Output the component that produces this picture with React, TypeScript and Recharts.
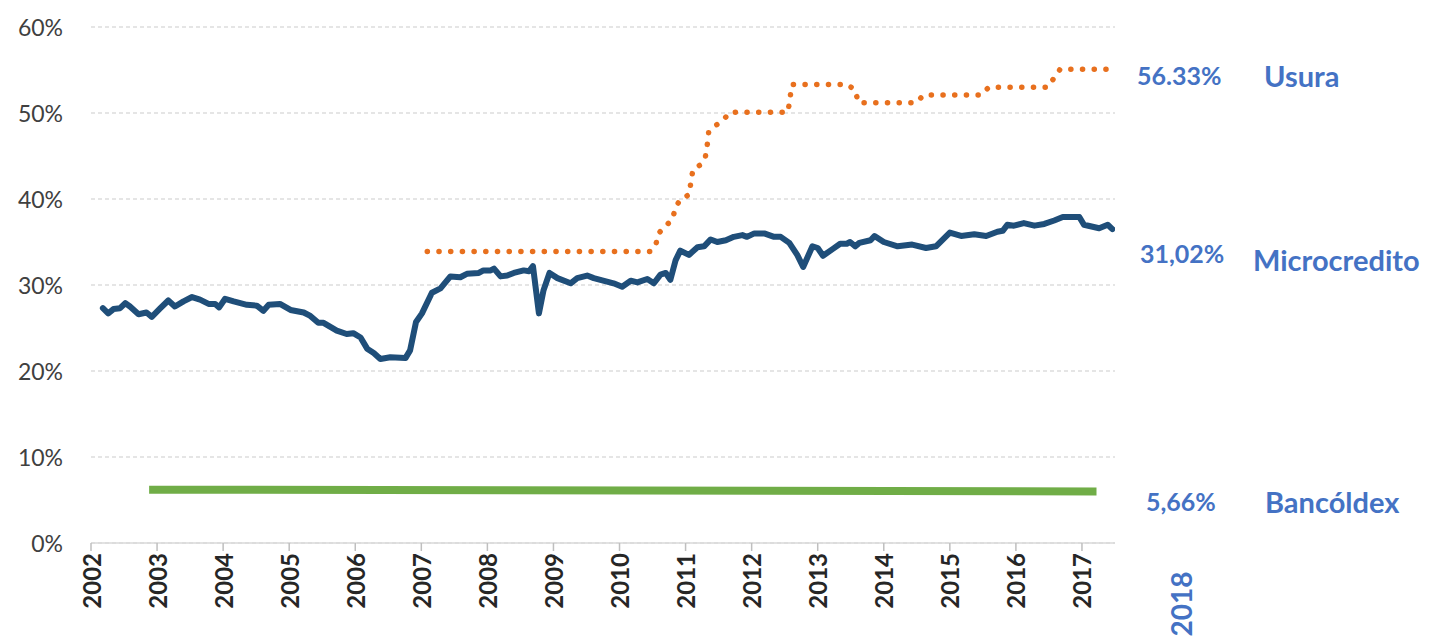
import React from "react";
import { LineChart, Line, XAxis, YAxis, CartesianGrid } from "recharts";

// tasas (% anual), [año decimal, tasa]
const microcredito: [number, number][] = [
  [2002.18, 27.3], [2002.26, 26.7], [2002.34, 27.2], [2002.44, 27.3], [2002.52, 27.9],
  [2002.59, 27.5], [2002.72, 26.6], [2002.84, 26.8], [2002.92, 26.3], [2003.05, 27.3],
  [2003.17, 28.2], [2003.27, 27.5], [2003.4, 28.1], [2003.53, 28.6], [2003.65, 28.3],
  [2003.78, 27.8], [2003.88, 27.8], [2003.94, 27.4], [2004.03, 28.4], [2004.16, 28.1],
  [2004.36, 27.7], [2004.51, 27.6], [2004.61, 27.0], [2004.69, 27.7], [2004.86, 27.8],
  [2005.02, 27.1], [2005.22, 26.8], [2005.32, 26.4], [2005.44, 25.6], [2005.52, 25.6],
  [2005.72, 24.7], [2005.87, 24.3], [2005.97, 24.4], [2006.08, 23.9], [2006.18, 22.6],
  [2006.28, 22.1], [2006.38, 21.4], [2006.53, 21.6], [2006.76, 21.5], [2006.83, 22.4],
  [2006.92, 25.7], [2007.01, 26.7], [2007.16, 29.1], [2007.29, 29.6], [2007.44, 31.0],
  [2007.59, 30.9], [2007.69, 31.3], [2007.87, 31.4], [2007.94, 31.7], [2008.05, 31.7],
  [2008.1, 31.9], [2008.2, 31.0], [2008.3, 31.1], [2008.4, 31.4], [2008.55, 31.7],
  [2008.63, 31.6], [2008.69, 32.2], [2008.78, 26.7], [2008.85, 29.4], [2008.94, 31.4],
  [2009.06, 30.8], [2009.26, 30.2], [2009.36, 30.8], [2009.51, 31.1], [2009.61, 30.8],
  [2009.71, 30.6], [2009.81, 30.4], [2009.91, 30.2], [2010.04, 29.8], [2010.17, 30.5],
  [2010.27, 30.3], [2010.42, 30.7], [2010.52, 30.2], [2010.62, 31.2], [2010.7, 31.4],
  [2010.77, 30.6], [2010.85, 32.9], [2010.92, 34.0], [2011.05, 33.5], [2011.18, 34.4],
  [2011.28, 34.5], [2011.38, 35.3], [2011.48, 35.0], [2011.61, 35.2], [2011.73, 35.6],
  [2011.86, 35.8], [2011.93, 35.6], [2012.04, 36.0], [2012.19, 36.0], [2012.34, 35.6],
  [2012.44, 35.6], [2012.57, 34.9], [2012.69, 33.5], [2012.78, 32.1], [2012.92, 34.5],
  [2013.0, 34.3], [2013.08, 33.4], [2013.23, 34.2], [2013.34, 34.8], [2013.44, 34.8],
  [2013.49, 35.0], [2013.57, 34.5], [2013.63, 34.9], [2013.8, 35.2], [2013.86, 35.7],
  [2014.0, 35.0], [2014.21, 34.5], [2014.43, 34.7], [2014.64, 34.3], [2014.79, 34.5],
  [2015.0, 36.1], [2015.17, 35.7], [2015.37, 35.9], [2015.55, 35.7], [2015.72, 36.2],
  [2015.8, 36.3], [2015.87, 37.0], [2015.97, 36.9], [2016.12, 37.2], [2016.28, 36.9],
  [2016.43, 37.1], [2016.58, 37.5], [2016.71, 37.9], [2016.96, 37.9], [2017.03, 37.0],
  [2017.26, 36.6], [2017.39, 37.0], [2017.46, 36.5],
];

const usura: [number, number][] = [
  [2007.09, 33.9], [2010.47, 33.9], [2010.55, 34.7], [2010.59, 36.0], [2010.7, 36.9],
  [2010.8, 37.6], [2010.85, 39.1], [2010.92, 39.9], [2011.05, 40.5], [2011.08, 41.9],
  [2011.11, 43.4], [2011.23, 44.0], [2011.3, 44.9], [2011.33, 46.4], [2011.35, 47.8],
  [2011.45, 48.5], [2011.58, 49.3], [2011.68, 50.1], [2012.55, 50.1], [2012.58, 51.7],
  [2012.61, 53.3], [2013.45, 53.3], [2013.56, 52.7], [2013.62, 51.2], [2014.48, 51.2],
  [2014.61, 52.1], [2015.47, 52.1], [2015.59, 53.0], [2016.48, 53.0], [2016.58, 54.1],
  [2016.67, 55.1], [2017.38, 55.1],
];

const bancoldex: [number, number][] = [
  [2002.88, 6.2], [2017.22, 6.0],
];

const yearTicks = [
  2002, 2003, 2004, 2005, 2006, 2007, 2008, 2009, 2010, 2011, 2012, 2013, 2014, 2015, 2016, 2017,
];
const rateTicks = [0, 10, 20, 30, 40, 50, 60];

const toRows = (pts: [number, number][]) => pts.map(([year, value]) => ({ year, value }));

const FONT = "Lato, 'Open Sans', sans-serif";
const BLUE = "#4472C4";

const YearTick = (props: any) => {
  const { x, y, payload } = props;
  return (
    <text
      x={x}
      y={y}
      transform={`rotate(-90, ${x}, ${y})`}
      textAnchor="end"
      dominantBaseline="central"
      fontFamily={FONT}
      fontWeight="bold"
      fontSize={24}
      fill="#262626"
    >
      {payload.value}
    </text>
  );
};

const RateTick = (props: any) => {
  const { y, payload } = props;
  return (
    <text
      x={63}
      y={y}
      textAnchor="end"
      dominantBaseline="central"
      fontFamily={FONT}
      fontSize={23}
      fill="#404040"
    >
      {payload.value}%
    </text>
  );
};

const note = (left: number, top: number, size: number): React.CSSProperties => ({
  position: "absolute",
  left,
  top,
  transform: "translateY(-50%)",
  fontFamily: FONT,
  fontWeight: "bold",
  fontSize: size,
  lineHeight: 1,
  color: BLUE,
  whiteSpace: "nowrap",
});

export default function App() {
  return (
    <div style={{ position: "absolute", left: 0, top: 0, width: 1429, height: 638, background: "#fff" }}>
      <LineChart width={1429} height={638} margin={{ top: 27, right: 314, bottom: 0, left: 0 }}>
        <CartesianGrid vertical={false} stroke="#DDDDDD" strokeDasharray="4 3" strokeWidth={1.5} />
        <XAxis
          dataKey="year"
          type="number"
          domain={[2002, 2017.5]}
          ticks={yearTicks}
          height={95}
          stroke="#D9D9D9"
          strokeWidth={1.5}
          tickSize={8}
          tickLine={{ stroke: "#BFBFBF" }}
          tick={<YearTick />}
          interval={0}
          allowDataOverflow
        />
        <YAxis
          type="number"
          domain={[0, 60]}
          ticks={rateTicks}
          width={91}
          axisLine={false}
          tickLine={false}
          tick={<RateTick />}
          interval={0}
        />
        <Line
          data={toRows(bancoldex)}
          dataKey="value"
          stroke="#70AD47"
          strokeWidth={8}
          dot={false}
          type="linear"
          isAnimationActive={false}
        />
        <Line
          data={toRows(usura)}
          dataKey="value"
          stroke="#E8701E"
          strokeWidth={5.5}
          strokeDasharray="0.1 11.6"
          strokeLinecap="round"
          dot={false}
          type="linear"
          isAnimationActive={false}
        />
        <Line
          data={toRows(microcredito)}
          dataKey="value"
          stroke="#1F4E79"
          strokeWidth={6}
          strokeLinejoin="round"
          strokeLinecap="round"
          dot={false}
          type="linear"
          isAnimationActive={false}
        />
      </LineChart>
      <div style={note(1137, 75, 25)}>56.33%</div>
      <div style={note(1264, 75, 29)}>Usura</div>
      <div style={note(1140, 253, 25)}>31,02%</div>
      <div style={note(1253, 259, 29)}>Microcredito</div>
      <div style={note(1146, 501, 25)}>5,66%</div>
      <div style={note(1265, 501, 29)}>Bancóldex</div>
      <div
        style={{
          position: "absolute",
          left: 1181,
          top: 604,
          transform: "translate(-50%, -50%) rotate(-90deg)",
          fontFamily: FONT,
          fontWeight: "bold",
          fontSize: 28,
          lineHeight: 1,
          color: BLUE,
        }}
      >
        2018
      </div>
    </div>
  );
}
